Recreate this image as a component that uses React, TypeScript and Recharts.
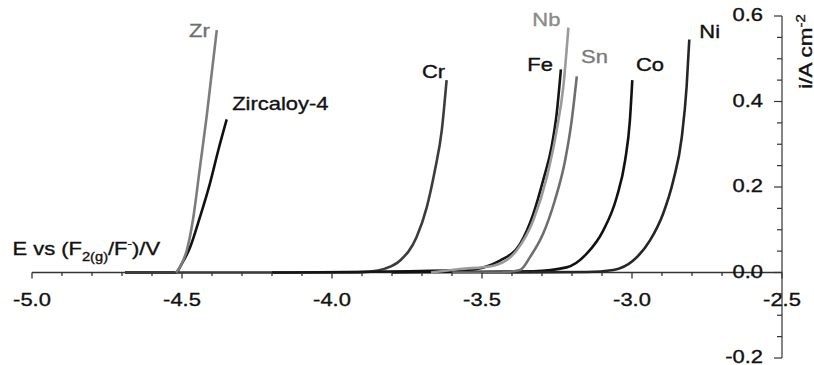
import React from 'react';
import { LineChart, Line, XAxis, YAxis, ReferenceLine, Label } from 'recharts';

// ---- data (potential E in V, current density i in A cm^-2) ----
const zrE = [-4.52, -4.505, -4.484, -4.462, -4.44, -4.418, -4.401, -4.384];
const zrI = [0, 0.015, 0.052, 0.13, 0.247, 0.364, 0.466, 0.567];

const zryE = [-4.69, -4.52, -4.501, -4.473, -4.44, -4.407, -4.379, -4.351];
const zryI = [0, 0, 0.02, 0.059, 0.13, 0.208, 0.286, 0.358];

const crE = [-4.69, -3.95, -3.873, -3.823, -3.773, -3.718, -3.684, -3.657, -3.634, -3.618];
const crI = [0, 0, 0.002, 0.009, 0.028, 0.083, 0.153, 0.239, 0.333, 0.45];

const feE = [-4.2, -3.551, -3.44, -3.373, -3.329, -3.296, -3.268, -3.251, -3.237];
const feI = [0, 0.006, 0.028, 0.067, 0.137, 0.216, 0.294, 0.372, 0.475];

const nbE = [-3.67, -3.573, -3.462, -3.384, -3.329, -3.284, -3.251, -3.229, -3.212];
const nbI = [0, 0.008, 0.016, 0.052, 0.122, 0.223, 0.333, 0.434, 0.573];

const snE = [-3.6, -3.44, -3.373, -3.34, -3.296, -3.257, -3.223, -3.201, -3.184];
const snI = [0, 0, 0.006, 0.036, 0.091, 0.169, 0.262, 0.356, 0.459];

const coE = [-3.8, -3.329, -3.218, -3.151, -3.096, -3.051, -3.023, -3.007, -2.999];
const coI = [0, 0.003, 0.012, 0.044, 0.098, 0.176, 0.262, 0.356, 0.45];

const niE = [-3.5, -3.151, -3.062, -2.996, -2.94, -2.896, -2.862, -2.834, -2.818, -2.809];
const niI = [0, 0.001, 0.006, 0.028, 0.075, 0.138, 0.216, 0.317, 0.434, 0.545];

const X_TICKS = [
  -5.0, -4.9, -4.8, -4.7, -4.6, -4.5, -4.4, -4.3, -4.2, -4.1, -4.0, -3.9, -3.8,
  -3.7, -3.6, -3.5, -3.4, -3.3, -3.2, -3.1, -3.0, -2.9, -2.8, -2.7, -2.6, -2.5,
];
const Y_TICKS = [
  -0.2, -0.15, -0.1, -0.05, 0, 0.05, 0.1, 0.15, 0.2, 0.25, 0.3, 0.35, 0.4, 0.45,
  0.5, 0.55, 0.6,
];
const X_DOMAIN: [number, number] = [-5, -2.5];
const Y_DOMAIN: [number, number] = [-0.2, 0.6];

const toPts = (xs: number[], ys: number[]) => xs.map((x, i) => ({ x, y: ys[i] }));

// ---- layout / style ----
const W = 814;
const H = 365;
const MARGIN = { top: 16, right: 0, bottom: 6, left: 32 };
const X_AXIS_H = 1;
const PLOT_H = H - MARGIN.top - MARGIN.bottom - X_AXIS_H;
const ZERO_SHIFT = (PLOT_H * (0 - Y_DOMAIN[0])) / (Y_DOMAIN[1] - Y_DOMAIN[0]);
const FONT = '"Liberation Sans", Arial, Helvetica, sans-serif';
const SX = 1.22;
const AXIS_COLOR = '#333';
const TXT_STROKE = 0.35;

type Series = {
  name: string;
  E: number[];
  I: number[];
  color: string;
  textColor: string;
  anchor: 'start' | 'end';
  dx: number;
  dy: number;
};

const SERIES: Series[] = [
  { name: 'Zircaloy-4', E: zryE, I: zryI, color: '#111', textColor: '#111', anchor: 'start', dx: 5.5, dy: -9.5 },
  { name: 'Cr', E: crE, I: crI, color: '#3c3c3c', textColor: '#111', anchor: 'end', dx: -1.5, dy: -2 },
  { name: 'Fe', E: feE, I: feI, color: '#151515', textColor: '#111', anchor: 'end', dx: -8, dy: 1.3 },
  { name: 'Co', E: coE, I: coI, color: '#111', textColor: '#111', anchor: 'start', dx: 3.7, dy: -9.4 },
  { name: 'Ni', E: niE, I: niI, color: '#262626', textColor: '#111', anchor: 'start', dx: 10, dy: -1.2 },
  { name: 'Sn', E: snE, I: snI, color: '#6e6e6e', textColor: '#7a7a7a', anchor: 'start', dx: 4.2, dy: -13 },
  { name: 'Zr', E: zrE, I: zrI, color: '#7c7c7c', textColor: '#6e6e6e', anchor: 'end', dx: -7, dy: 6.6 },
  { name: 'Nb', E: nbE, I: nbI, color: '#9a9a9a', textColor: '#8a8a8a', anchor: 'end', dx: -8, dy: -1.5 },
];

const XTick = (props: any) => {
  const { x, y, payload } = props;
  const v: number = payload.value;
  const major = Math.abs(v * 2 - Math.round(v * 2)) < 1e-6;
  const ay = y - ZERO_SHIFT;
  return (
    <g>
      <line x1={x} x2={x} y1={ay} y2={ay + (major ? 6 : 3.5)} stroke={AXIS_COLOR} strokeWidth={1.3} />
      {major && (
        <text
          transform={`translate(${x},${ay + 33}) scale(${SX},1)`}
          textAnchor="middle"
          fontSize={18}
          fontFamily={FONT}
          fill="#111"
          stroke="#111"
          strokeWidth={TXT_STROKE}
        >
          {v.toFixed(1)}
        </text>
      )}
    </g>
  );
};

const YTick = (props: any) => {
  const { x, y, payload } = props;
  const v: number = payload.value;
  const major = Math.abs(v * 5 - Math.round(v * 5)) < 1e-6;
  return (
    <g>
      <line x1={x - (major ? 8 : 5)} x2={x} y1={y} y2={y} stroke={AXIS_COLOR} strokeWidth={1.2} />
      {major && (
        <text
          transform={`translate(${x - 19},${y + 5}) scale(${SX},1)`}
          textAnchor="end"
          fontSize={18}
          fontFamily={FONT}
          fill="#111"
          stroke="#111"
          strokeWidth={TXT_STROKE}
        >
          {v.toFixed(1)}
        </text>
      )}
    </g>
  );
};

const XTitle = (props: any) => {
  const vb = props.viewBox || { x: 0, y: 0 };
  return (
    <text
      transform={`translate(${vb.x - 19.5},${vb.y - 17.5}) scale(${SX},1)`}
      fontFamily={FONT}
      fontSize={18}
      fill="#111"
      stroke="#111"
      strokeWidth={TXT_STROKE}
    >
      E vs (F<tspan fontSize={12} dy={6}>2(g)</tspan>
      <tspan dy={-6}>/F</tspan>
      <tspan fontSize={11} dy={-8}>-</tspan>
      <tspan dy={8}>)/V</tspan>
    </text>
  );
};

const YTitle = (props: any) => {
  const vb = props.viewBox || { x: 0, y: 0, width: 0, height: 0 };
  return (
    <text
      transform={`translate(${vb.x + 29.5},${vb.y + 35.5}) rotate(-90) scale(1.25,1)`}
      textAnchor="middle"
      fontFamily={FONT}
      fontSize={18}
      fill="#111"
      stroke="#111"
      strokeWidth={TXT_STROKE}
    >
      i/A cm<tspan fontSize={12} dy={-7}>-2</tspan>
    </text>
  );
};

const makeLabel = (s: Series) => (props: any) => {
  const { x, y, index } = props;
  if (index !== s.E.length - 1) return null;
  return (
    <text
      transform={`translate(${x + s.dx},${y + s.dy}) scale(${SX},1)`}
      textAnchor={s.anchor}
      fontFamily={FONT}
      fontSize={18}
      fill={s.textColor}
      stroke={s.textColor}
      strokeWidth={TXT_STROKE}
    >
      {s.name}
    </text>
  );
};

export default function App() {
  return (
    <div style={{ width: W, height: H, background: '#fff' }}>
      <style>{'body{margin:0;background:#fff}'}</style>
      <LineChart width={W} height={H} margin={MARGIN}>
        <XAxis
          type="number"
          dataKey="x"
          domain={X_DOMAIN}
          ticks={X_TICKS}
          interval={0}
          allowDataOverflow
          axisLine={false}
          tickLine={false}
          tickSize={0}
          tickMargin={0}
          height={X_AXIS_H}
          tick={(p: any) => <XTick {...p} />}
        />
        <YAxis
          type="number"
          orientation="right"
          domain={Y_DOMAIN}
          ticks={Y_TICKS}
          interval={0}
          allowDataOverflow
          axisLine={{ stroke: AXIS_COLOR, strokeWidth: 1.2 }}
          tickLine={false}
          tickSize={0}
          tickMargin={0}
          width={32}
          tick={(p: any) => <YTick {...p} />}
        >
          <Label content={(p: any) => <YTitle {...p} />} />
        </YAxis>
        <ReferenceLine y={0} stroke={AXIS_COLOR} strokeWidth={1.5}>
          <Label content={(p: any) => <XTitle {...p} />} />
        </ReferenceLine>
        {SERIES.map((s) => (
          <Line
            key={s.name}
            data={toPts(s.E, s.I)}
            dataKey="y"
            type="monotone"
            stroke={s.color}
            strokeWidth={2.6}
            dot={false}
            activeDot={false}
            isAnimationActive={false}
            label={makeLabel(s)}
          />
        ))}
      </LineChart>
    </div>
  );
}
